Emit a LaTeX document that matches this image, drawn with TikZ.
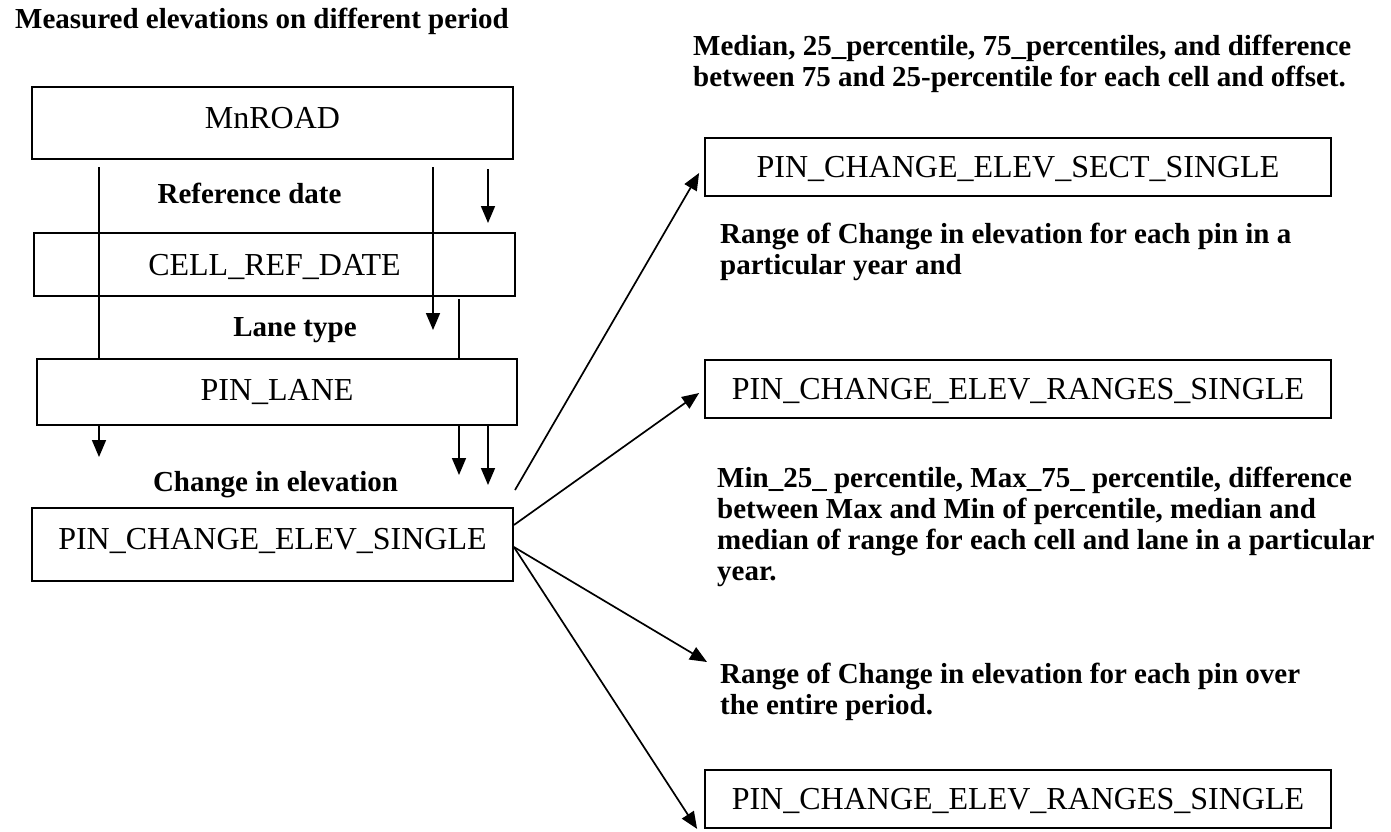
\documentclass[tikz,border=0pt]{standalone}
\usepackage{fontspec}
\setmainfont{Liberation Serif}
\usetikzlibrary{arrows.meta}
\begin{document}
\begin{tikzpicture}[x=1pt,y=-1pt,
  box/.style={draw, line width=1.8pt, inner sep=0pt, font=\fontsize{32}{38}\selectfont, text height=21pt, text depth=0pt},
  lbl/.style={inner sep=0pt, font=\fontsize{29}{31}\selectfont\bfseries, align=left},
  arr/.style={line width=1.7pt, -{Triangle[length=17pt,width=14pt]}},
  ln/.style={line width=1.7pt}]
\useasboundingbox (0,0) rectangle (1391,831);
% boxes
\node[box, minimum width=481pt, minimum height=72pt, text depth=11pt] (mn) at (272.5,123) {MnROAD};
\node[box, minimum width=481pt, minimum height=63pt] (cell) at (274.5,264.5) {CELL\_REF\_DATE};
\node[box, minimum width=480pt, minimum height=66pt, text depth=5pt] (lane) at (277,392) {PIN\_LANE};
\node[box, minimum width=481pt, minimum height=73pt, text depth=12pt] (pces) at (272.5,544.5) {PIN\_CHANGE\_ELEV\_SINGLE};
\node[box, minimum width=626pt, minimum height=58pt] (sect) at (1018,167) {PIN\_CHANGE\_ELEV\_SECT\_SINGLE};
\node[box, minimum width=626pt, minimum height=58pt] (rng1) at (1018,389) {PIN\_CHANGE\_ELEV\_RANGES\_SINGLE};
\node[box, minimum width=626pt, minimum height=58pt] (rng2) at (1018,799) {PIN\_CHANGE\_ELEV\_RANGES\_SINGLE};
% labels (base anchor = baseline of the last line)
\node[lbl, anchor=base west] (t0) at (15,28) {Measured elevations on different period};
\node[lbl, anchor=base] (tref) at (249.5,203) {Reference date};
\node[lbl, anchor=base] (tlane) at (295,336) {Lane type};
\node[lbl, anchor=base] (tchg) at (275.5,491) {Change in elevation};
\node[lbl, anchor=base west] (tmed) at (693,86) {Median, 25\_percentile, 75\_percentiles, and difference\\between 75 and 25-percentile for each cell and offset.};
\node[lbl, anchor=base west] (trange) at (720,274) {Range of Change in elevation for each pin in a\\particular year and};
\node[lbl, anchor=base west] (tmin) at (717,580) {Min\_25\_ percentile, Max\_75\_ percentile, difference\\between Max and Min of percentile, median and\\median of range for each cell and lane in a particular\\year.};
\node[lbl, anchor=base west] (tover) at (720,714) {Range of Change in elevation for each pin over\\the entire period.};
% coordinates for free ends
\coordinate (x99) at (99,0);
\coordinate (x459) at (459,0);
\coordinate (x488) at (488,0);
\coordinate (s1) at (99,167);
\coordinate (s2) at (433,167);
\coordinate (e2) at (433,330);
\coordinate (s3) at (488,169);
\coordinate (e3) at (488,223);
\coordinate (s4) at (459,299);
\coordinate (e5) at (99,457);
\coordinate (e6) at (459,475);
\coordinate (e7) at (488,485);
\coordinate (da) at (515,490);
\coordinate (ec) at (707,662);
% vertical connectors
\draw[ln] (s1) -- (s1 |- lane.north);
\draw[arr] (s2) -- (e2);
\draw[arr] (s3) -- (e3);
\draw[ln] (s4) -- (s4 |- lane.north);
\draw[arr] (lane.south -| x99) -- (e5);
\draw[arr] (lane.south -| x459) -- (e6);
\draw[arr] (lane.south -| x488) -- (e7);
% diagonal connectors
\draw[arr] (da) -- ([xshift=-5pt,yshift=-6pt]sect.west);
\draw[arr] ([yshift=19.5pt]pces.east) -- ([xshift=-5pt,yshift=-4pt]rng1.west);
\draw[arr] ([yshift=-2.5pt]pces.east) -- (ec);
\draw[arr] ([yshift=-2.5pt]pces.east) -- ([xshift=-7pt]rng2.south west);
\end{tikzpicture}
\end{document}
